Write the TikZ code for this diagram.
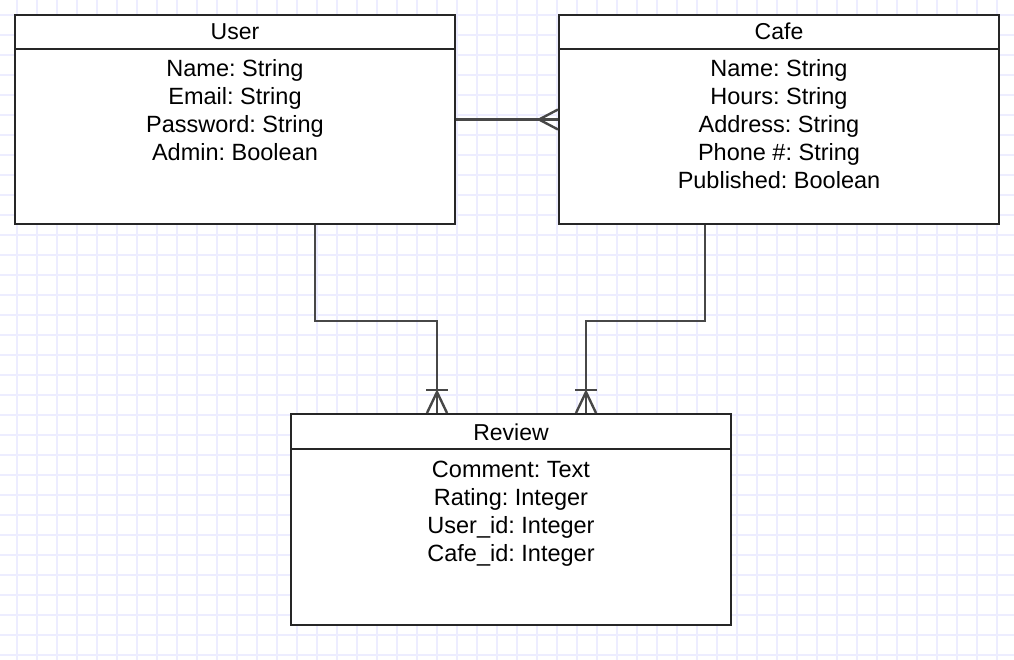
\documentclass[tikz,border=0pt]{standalone}
\usepackage{fontspec}
\setmainfont{Liberation Sans}
\usepackage{tikz}

\definecolor{gridblue}{RGB}{237,237,255}
\tikzset{
  entity/.style={draw=black!85, line width=2pt, fill=white, inner sep=0pt},
  etitle/.style={anchor=base, inner sep=0pt, font=\fontsize{23}{28}\selectfont},
  attr/.style={anchor=base, inner sep=0pt, font=\fontsize{23.5}{28}\selectfont},
  rel/.style={draw=black!72, line width=2.4pt},
}
\frenchspacing

\begin{document}
\begin{tikzpicture}[x=1pt, y=-1pt]
		\useasboundingbox (0,0) rectangle (1014,660);
		\fill[white] (0,0) rectangle (1014,660);
		% grid paper
		\foreach \i in {0,...,49} \draw[gridblue, line width=1.2pt] (17+20*\i,0) -- (17+20*\i,660);
		\foreach \j in {0,...,32} \draw[gridblue, line width=1.2pt] (0,15+20*\j) -- (1014,15+20*\j);
		% entities
		\node[entity, minimum width=440pt, minimum height=209pt] (user) at (235,119.5) {};
		\node[entity, minimum width=440pt, minimum height=209pt] (cafe) at (779,119.5) {};
		\node[entity, minimum width=440pt, minimum height=211pt] (review) at (511,519.5) {};
		\draw[entity] ([yshift=-35pt]user.north west) -- ([yshift=-35pt]user.north east);
		\draw[entity] ([yshift=-35pt]cafe.north west) -- ([yshift=-35pt]cafe.north east);
		\draw[entity] ([yshift=-36pt]review.north west) -- ([yshift=-36pt]review.north east);
		\node[etitle] (usertitle) at (235,40) {User};
		\node[etitle] (cafetitle) at (779,40) {Cafe};
		\node[etitle] (reviewtitle) at (511,440) {Review};
		\foreach \t [count=\i] in {Name: String, Email: String, Password: String, Admin: Boolean}
			\node[attr] (userattr\i) at (235,49+28*\i) {\t};
		\foreach \t [count=\i] in {Name: String, Hours: String, Address: String, Phone \#: String, Published: Boolean}
			\node[attr] (cafeattr\i) at (779,49+28*\i) {\t};
		\foreach \t [count=\i] in {Comment: Text, Rating: Integer, User\_id: Integer, Cafe\_id: Integer}
			\node[attr] (reviewattr\i) at (511,449+28*\i) {\t};
		% relations
		\draw[rel] (user.east) -- (cafe.west);
		\draw[rel] ([xshift=-19pt]cafe.west) -- ([yshift=10pt]cafe.west);
		\draw[rel] ([xshift=-19pt]cafe.west) -- ([yshift=-10pt]cafe.west);
		\coordinate (ufoot) at ([xshift=-74pt]review.north);
		\coordinate (cfoot) at ([xshift=75pt]review.north);
		\draw[rel] ([xshift=80pt]user.south) -- ++(0,96) -| (ufoot);
		\draw[rel] ([xshift=-74pt]cafe.south) -- ++(0,96) -| (cfoot);
		\foreach \f in {ufoot,cfoot}{
			\draw[rel] ([yshift=21pt]\f) -- ([xshift=-10pt]\f);
			\draw[rel] ([yshift=21pt]\f) -- ([xshift=10pt]\f);
			\draw[rel] ([xshift=-11pt,yshift=23pt]\f) -- ([xshift=11pt,yshift=23pt]\f);
		}
\end{tikzpicture}
\end{document}
